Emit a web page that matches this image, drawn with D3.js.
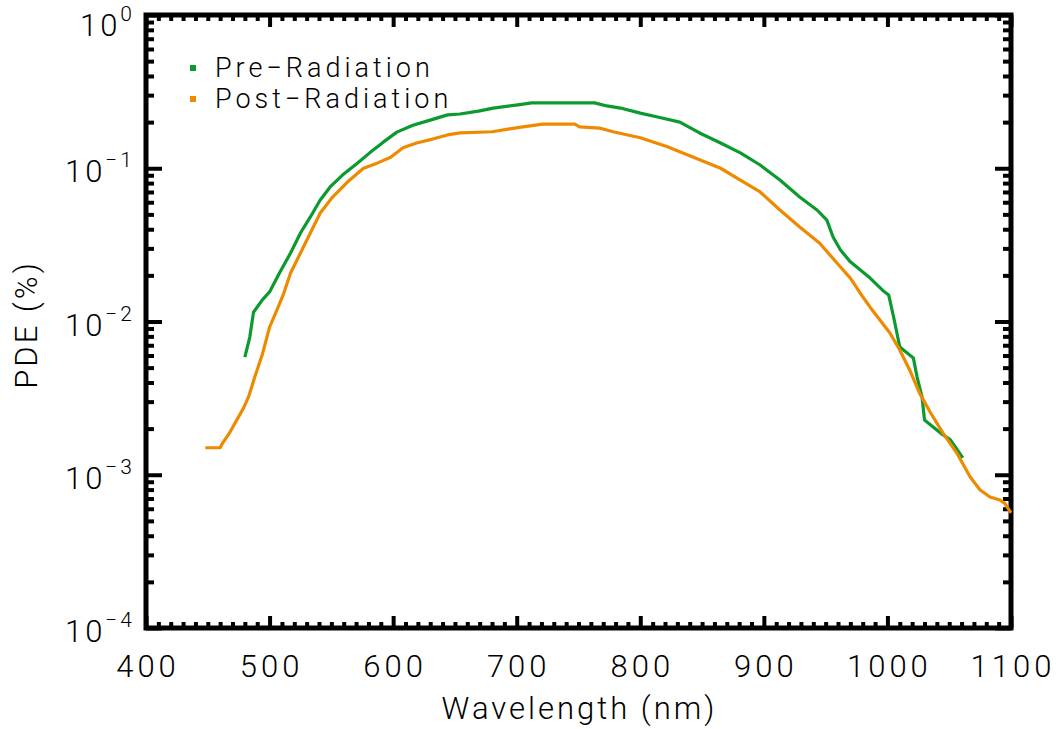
<!DOCTYPE html>
<html>
<head>
<meta charset="utf-8">
<script src="https://cdn.jsdelivr.net/npm/d3@7"></script>
<style>
  html, body { margin: 0; padding: 0; background: #fff; }
  svg { display: block; }
  text { font-family: Roboto, "DejaVu Sans", sans-serif; font-weight: 300; fill: #000; }
</style>
</head>
<body>
<svg id="chart" width="1056" height="729"></svg>
<script>
// Photon detection efficiency vs wavelength, before and after irradiation
const preWavelength = [480, 484, 487, 494, 500, 508, 517, 525, 533, 541, 549, 559, 571, 581, 592, 603,
  616, 630, 644, 654, 669, 681, 701, 712, 763, 773, 784, 800, 814, 832, 848, 865, 881, 897, 913,
  929, 943, 951, 956, 962, 970, 986, 996, 1001, 1005, 1010, 1021, 1024, 1028, 1030, 1043, 1051, 1061];
const prePDE = [0.00586, 0.00792, 0.0115, 0.0138, 0.0156, 0.0207, 0.028, 0.0378, 0.0481, 0.0621, 0.0755,
  0.0903, 0.108, 0.126, 0.148, 0.172, 0.191, 0.206, 0.223, 0.226, 0.236, 0.247, 0.259, 0.267, 0.267,
  0.255, 0.247, 0.229, 0.216, 0.200, 0.170, 0.146, 0.126, 0.105, 0.0838, 0.0649, 0.0534, 0.0459,
  0.0356, 0.0293, 0.0245, 0.0192, 0.0160, 0.0149, 0.0107, 0.00682, 0.00578, 0.00434, 0.00322,
  0.00228, 0.00187, 0.00169, 0.00129];

const postWavelength = [448, 460, 462, 468, 479, 483, 488, 494, 500, 506, 511, 517, 525, 533, 541, 551,
  563, 576, 587, 598, 608, 619, 632, 644, 654, 680, 693, 705, 721, 747, 751, 767, 778, 800, 822,
  843, 865, 881, 897, 913, 929, 945, 962, 970, 980, 986, 1002, 1010, 1018, 1026, 1035, 1045, 1056,
  1067, 1075, 1083, 1091, 1095, 1100];
const postPDE = [0.0015, 0.0015, 0.00161, 0.0019, 0.00273, 0.00322, 0.00434, 0.00604, 0.0092, 0.0119,
  0.0149, 0.0207, 0.028, 0.0378, 0.051, 0.0649, 0.0813, 0.100, 0.108, 0.118, 0.136, 0.146, 0.155,
  0.165, 0.170, 0.173, 0.180, 0.186, 0.194, 0.194, 0.186, 0.183, 0.173, 0.158, 0.138, 0.118, 0.100,
  0.0838, 0.070, 0.0534, 0.0414, 0.0325, 0.0227, 0.0192, 0.0145, 0.0124, 0.00841, 0.00652, 0.00483,
  0.00341, 0.00253, 0.00187, 0.00139, 0.000967, 0.000795, 0.000716, 0.000684, 0.00065, 0.000563];

const xTicks = [400, 500, 600, 700, 800, 900, 1000, 1100];
const yTickExponents = [0, -1, -2, -3, -4];
const seriesNames = ["Pre\u2212Radiation", "Post\u2212Radiation"];
const seriesColors = ["#0a9a2e", "#ee8a00"];

const svg = d3.select("#chart");
const plotLeft = 146, plotRight = 1011, plotTop = 15, plotBottom = 628;

const x = d3.scaleLinear().domain([400, 1100]).range([plotLeft, plotRight]);
const y = d3.scaleLog().domain([1e-4, 1]).range([plotBottom, plotTop]);

const xMinor = d3.range(400, 1101, 10).filter(v => v % 100 !== 0);
const yMajor = yTickExponents.map(e => Math.pow(10, e));
const yMinor = [];
for (let e = -4; e < 0; e++) for (let m = 2; m <= 9; m++) yMinor.push(m * Math.pow(10, e));

// Inward ticks on all four sides
function tickAxis(axis, tf, vals, len) {
  const g = svg.append("g").attr("transform", tf)
    .call(axis.tickValues(vals).tickSize(-len).tickFormat(""));
  g.select(".domain").remove();
  g.selectAll("line").attr("stroke", "#000").attr("stroke-width", 4);
}
tickAxis(d3.axisBottom(x), `translate(0,${plotBottom})`, xTicks, 12);
tickAxis(d3.axisBottom(x), `translate(0,${plotBottom})`, xMinor, 6);
tickAxis(d3.axisTop(x), `translate(0,${plotTop})`, xTicks, 12);
tickAxis(d3.axisTop(x), `translate(0,${plotTop})`, xMinor, 6);
tickAxis(d3.axisLeft(y), `translate(${plotLeft},0)`, yMajor, 16);
tickAxis(d3.axisLeft(y), `translate(${plotLeft},0)`, yMinor, 8);
tickAxis(d3.axisRight(y), `translate(${plotRight},0)`, yMajor, 16);
tickAxis(d3.axisRight(y), `translate(${plotRight},0)`, yMinor, 8);

// Frame
svg.append("rect")
  .attr("x", plotLeft).attr("y", plotTop)
  .attr("width", plotRight - plotLeft).attr("height", plotBottom - plotTop)
  .attr("fill", "none").attr("stroke", "#000").attr("stroke-width", 5);

// Tick labels
svg.append("g").selectAll("text").data(xTicks).join("text")
  .attr("x", d => x(d) + 2).attr("y", plotBottom + 49)
  .attr("text-anchor", "middle").attr("font-size", 31)
  .attr("letter-spacing", 4)
  .text(d => d);

const yl = svg.append("g").selectAll("text").data(yTickExponents).join("text")
  .attr("x", 135)
  .attr("y", d => Math.max(y(Math.pow(10, d)) + 14, 36))
  .attr("text-anchor", "end").attr("font-size", 31)
  .attr("letter-spacing", 3);
yl.append("tspan").text("10");
yl.append("tspan").attr("dy", -15).attr("font-size", 21)
  .text(d => d === 0 ? "0" : "\u2212" + Math.abs(d));

// Axis titles
svg.append("text").attr("x", (plotLeft + plotRight) / 2 + 1).attr("y", 719)
  .attr("text-anchor", "middle").attr("font-size", 31)
  .attr("letter-spacing", 3)
  .text("Wavelength (nm)");
svg.append("text")
  .attr("transform", `translate(37,${(plotTop + plotBottom) / 2 + 3}) rotate(-90)`)
  .attr("text-anchor", "middle").attr("font-size", 31)
  .attr("letter-spacing", 3)
  .text("PDE (%)");

// Curves
const line = d3.line().x(d => x(d[0])).y(d => y(d[1]));
const series = [
  d3.zip(preWavelength, prePDE),
  d3.zip(postWavelength, postPDE)
];
svg.append("g").selectAll("path").data(series).join("path")
  .attr("d", line)
  .attr("fill", "none")
  .attr("stroke", (d, i) => seriesColors[i])
  .attr("stroke-width", 3.2)
  .attr("stroke-linejoin", "round");

// Legend
const lg = svg.append("g").selectAll("g").data(seriesNames).join("g")
  .attr("transform", (d, i) => `translate(193,${68 + i * 31})`);
lg.append("rect").attr("x", -3).attr("y", -3).attr("width", 6).attr("height", 6)
  .attr("fill", (d, i) => seriesColors[i]);
lg.append("text").attr("x", 22).attr("y", 9).attr("font-size", 27)
  .attr("letter-spacing", 4).text(d => d);
</script>
</body>
</html>
